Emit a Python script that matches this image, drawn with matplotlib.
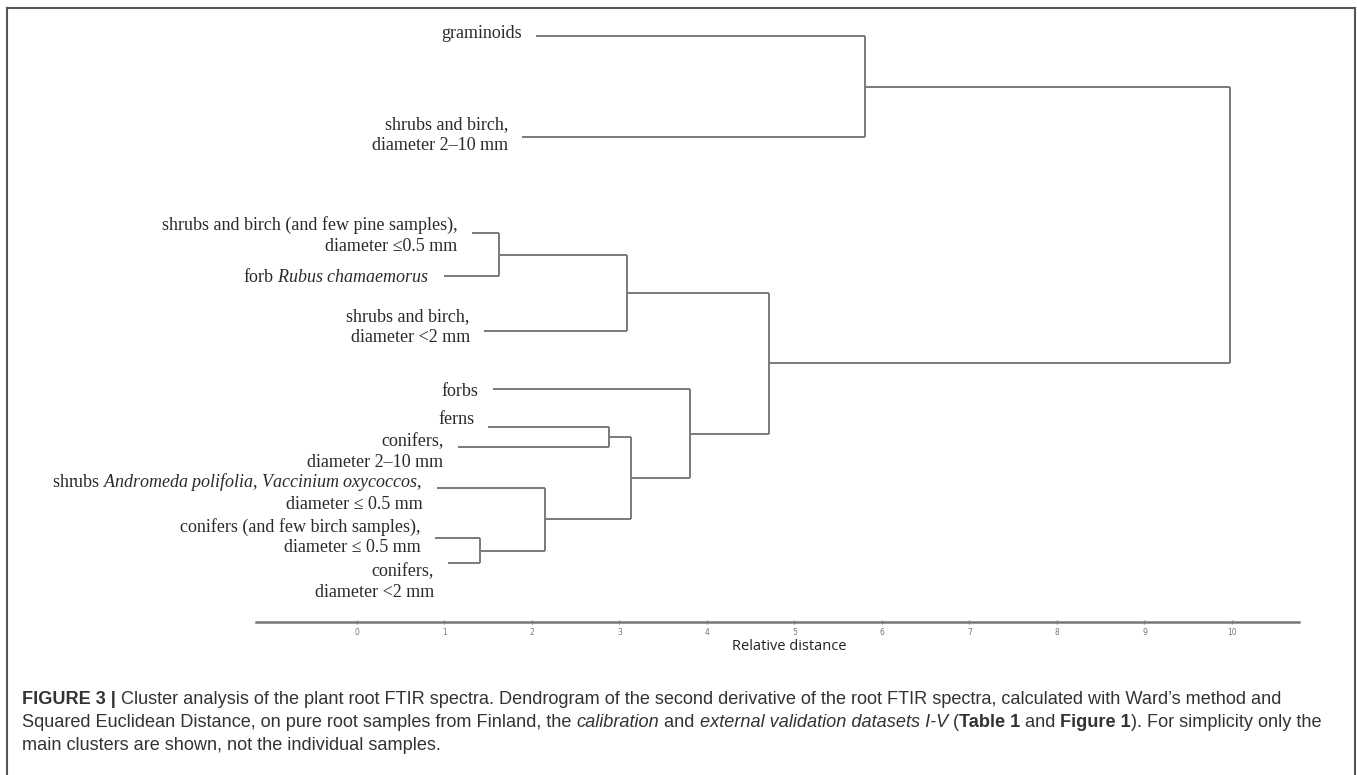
import matplotlib
matplotlib.use("Agg")
import matplotlib.pyplot as plt
from matplotlib.lines import Line2D

# leaf labels, top to bottom
labels = ["graminoids",
          "shrubs and birch,\ndiameter 2–10 mm",
          "shrubs and birch (and few pine samples),\ndiameter ≤0.5 mm",
          r"forb $\mathit{Rubus\ chamaemorus}$",
          "shrubs and birch,\ndiameter <2 mm",
          "forbs",
          "ferns",
          "conifers,\ndiameter 2–10 mm",
          r"shrubs $\mathit{Andromeda\ polifolia{,}\ Vaccinium\ oxycoccos{,}}$" + "\ndiameter ≤ 0.5 mm",
          "conifers (and few birch samples),\ndiameter ≤ 0.5 mm",
          "conifers,\ndiameter <2 mm"]
# vertical place of each leaf (rows, from the top)
leaf_rows = [36, 137, 233, 276, 331, 389, 427, 447, 488, 538, 563]
# where each leaf line starts (relative distance)
leaf_start = [2.05, 1.89, 1.31, 0.99, 1.45, 1.55, 1.50, 1.15, 0.91, 0.89, 1.04]
# merges: (child a, child b, relative distance); new ids start at 11
merges = [(9, 10, 1.41),
          (2, 3, 1.62),
          (8, 11, 2.15),
          (6, 7, 2.88),
          (12, 4, 3.09),
          (14, 13, 3.13),
          (5, 16, 3.81),
          (15, 17, 4.71),
          (0, 1, 5.81),
          (19, 18, 9.98)]
ticks = list(range(0, 11))

# label nudges (rows)
label_dy = [-2, -1.5, 2.5, 1, -3.5, 2, -7, 5, 4, -1, 19]

plt.rcParams['mathtext.fontset'] = 'custom'
plt.rcParams['mathtext.rm'] = 'Liberation Serif'
plt.rcParams['mathtext.it'] = 'Liberation Serif:italic'

W, H = 1357, 775
fig = plt.figure(figsize=(W / 100, H / 100), dpi=100)
ax = fig.add_axes([256 / W, 1 - 622 / H, (1299 - 256) / W, 622 / H])
ax.set_xlim(-1.154, 10.766)
ax.set_ylim(622, 0)

lc = "#7a7a7a"
xs = {i: leaf_start[i] for i in range(len(labels))}
ys = {i: leaf_rows[i] for i in range(len(labels))}
nid = len(labels)
for a, b, d in merges:
    for c in (a, b):
        ax.plot([xs[c], d], [ys[c], ys[c]], color=lc, lw=1.4, solid_capstyle='butt')
    ax.plot([d, d], [ys[a], ys[b]], color=lc, lw=1.4, solid_capstyle='butt')
    xs[nid] = d
    ys[nid] = (ys[a] + ys[b]) / 2
    nid += 1

for i, lab in enumerate(labels):
    ax.text(leaf_start[i] - 0.16, leaf_rows[i] + label_dy[i], lab, ha='right', va='center',
            multialignment='right', family='Liberation Serif', fontsize=13, color='#2a2a2a',
            linespacing=1.3)

for s in ['top', 'left', 'right']:
    ax.spines[s].set_visible(False)
ax.spines['bottom'].set_color('#777777')
ax.spines['bottom'].set_linewidth(1.8)
ax.set_yticks([])
ax.set_xticks(ticks)
ax.set_xticks([t - 0.5 for t in ticks] + [10.5], minor=True)
ax.tick_params(axis='x', which='major', direction='inout', length=3, width=1, color='#888888',
               labelsize=5.5, labelcolor='#777777', pad=3)
ax.tick_params(axis='x', which='minor', direction='inout', length=2, width=0.8, color='#999999')
fig.text(789 / W, 1 - 647 / H, "Relative distance", ha='center', va='center',
         family='Open Sans', fontsize=10.5, color='#222222')

# frame
fc = '#555555'
fig.add_artist(Line2D([7 / W, 7 / W], [0, 1 - 8 / H], color=fc, lw=1.5))
fig.add_artist(Line2D([7 / W, 1355 / W], [1 - 8 / H, 1 - 8 / H], color=fc, lw=1.5))
fig.add_artist(Line2D([1355 / W, 1355 / W], [0, 1 - 8 / H], color=fc, lw=1.5))

# caption
fig.canvas.draw()
rend = fig.canvas.get_renderer()


def runs(x, y, parts):
    for s, w, st in parts:
        t = fig.text(x, y, s, ha='left', va='center', family='Liberation Sans', fontsize=13.05,
                     weight=w, style=st, color='#333333')
        x += t.get_window_extent(rend).width / W


cap = [
    [("FIGURE 3 | ", 'bold', 'normal'),
     ("Cluster analysis of the plant root FTIR spectra. Dendrogram of the second derivative of the root FTIR spectra, calculated with Ward’s method and", 'normal', 'normal')],
    [("Squared Euclidean Distance, on pure root samples from Finland, the ", 'normal', 'normal'),
     ("calibration", 'normal', 'italic'), (" and ", 'normal', 'normal'),
     ("external validation datasets I-V", 'normal', 'italic'), (" (", 'normal', 'normal'),
     ("Table 1", 'bold', 'normal'), (" and ", 'normal', 'normal'), ("Figure 1", 'bold', 'normal'),
     ("). For simplicity only the", 'normal', 'normal')],
    [("main clusters are shown, not the individual samples.", 'normal', 'normal')],
]
for k, line in enumerate(cap):
    runs(22 / W, 1 - (700 + 22.5 * k) / H, line)

fig.savefig("out.png", dpi=100)
